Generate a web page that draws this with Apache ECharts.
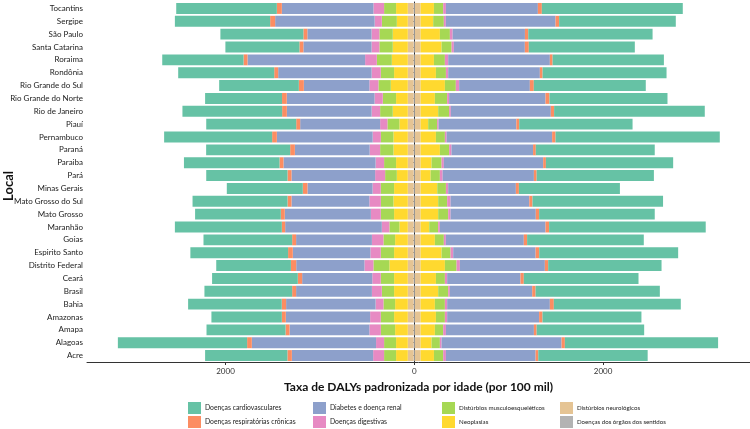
<!DOCTYPE html>
<html>
<head>
<meta charset="utf-8">
<script src="https://cdn.jsdelivr.net/npm/echarts@6/dist/echarts.min.js"></script>
<style>html,body{margin:0;padding:0;background:#fff;}#c{width:750px;height:429px;}</style>
</head>
<body>
<div id="c"></div>
<script>
// Categories, listed top to bottom as in the picture
const categories = ["Tocantins","Sergipe","São Paulo","Santa Catarina","Roraima","Rondônia","Rio Grande do Sul","Rio Grande do Norte","Rio de Janeiro","Piauí","Pernambuco","Paraná","Paraiba","Pará","Minas Gerais","Mato Grosso do Sul","Mato Grosso","Maranhão","Goias","Espirito Santo","Distrito Federal","Ceará","Brasil","Bahia","Amazonas","Amapa","Alagoas","Acre"];

const causeNames = ["Doenças cardiovasculares","Doenças respiratórias crônicas","Diabetes e doença renal","Doenças digestivas","Distúrbios musculoesqueléticos","Neoplasias","Distúrbios neurológicos","Doenças dos órgãos dos sentidos"];

// Left side (drawn to the left of zero)
const leftCardio = [1066,1009,879,784,861,1017,844,815,1056,953,1144,890,1012,861,805,1006,908,1133,939,1035,791,908,929,992,746,837,1369,872];
const leftResp   = [53,53,42,42,42,42,53,50,50,42,50,50,42,42,49,42,42,35,42,50,56,46,42,46,42,42,50,47];
const leftDiab   = [970,1054,680,722,1246,990,694,930,898,847,1015,792,976,886,690,825,912,1024,803,822,723,743,803,948,893,846,1316,861];
const leftDigest = [113,76,83,83,124,97,96,87,90,77,87,111,90,106,87,122,105,80,122,110,95,90,105,83,113,122,85,116];
const leftMusc   = [127,159,142,142,159,141,131,141,134,127,133,141,127,124,141,133,141,106,124,141,169,141,130,124,141,151,127,127];
const leftNeo    = [124,116,159,159,169,145,180,124,159,89,152,152,124,116,145,152,145,89,134,145,195,145,145,134,145,134,124,124];
const leftNeuro  = [62,62,62,62,62,62,62,62,62,62,62,62,62,62,62,62,62,62,62,62,62,62,62,62,62,62,62,62];
const leftSense  = [7,7,7,7,7,7,7,7,7,7,7,7,7,7,7,7,7,7,7,7,7,7,7,7,7,7,7,7];

// Right side
const rightCardio = [1493,1236,1317,1123,1179,1313,1186,1250,1596,1201,1740,1260,1348,1242,1070,1383,1225,1659,1236,1472,1201,1215,1316,1345,1048,1139,1623,1159];
const rightResp   = [42,38,35,42,29,29,42,42,35,30,36,29,29,29,32,34,35,38,35,38,35,35,36,42,36,29,35,28];
const rightDiab   = [974,1162,766,752,1077,971,749,1021,1059,824,1118,864,1052,967,717,834,903,1119,826,873,900,777,872,1088,974,932,1271,950];
const rightDigest = [29,21,29,24,35,24,35,21,18,15,18,25,24,29,24,36,25,18,21,28,35,24,18,24,24,29,18,29];
const rightMusc   = [98,113,106,106,116,106,116,130,116,95,95,98,106,98,92,95,106,95,95,95,124,95,106,106,95,88,88,98];
const rightNeo    = [141,133,204,222,141,162,257,151,186,80,162,204,116,106,176,186,186,91,151,222,257,162,186,151,162,151,116,141];
const rightNeuro  = [60,60,60,60,60,60,60,60,60,60,60,60,60,60,60,60,60,60,60,60,60,60,60,60,60,60,60,60];
const rightSense  = [7,7,7,7,7,7,7,7,7,7,7,7,7,7,7,7,7,7,7,7,7,7,7,7,7,7,7,7];

const tickValues = [-2000, 0, 2000];

const colors = ["#66C2A5","#FC8D62","#8DA0CB","#E78AC3","#A6D854","#FFD92F","#E5C494","#B3B3B3"];
const leftArrays  = [leftCardio,leftResp,leftDiab,leftDigest,leftMusc,leftNeo,leftNeuro,leftSense];
const rightArrays = [rightCardio,rightResp,rightDiab,rightDigest,rightMusc,rightNeo,rightNeuro,rightSense];

const yCats = categories.slice().reverse();
const series = [];
// innermost first: sense -> cardio
for (let i = causeNames.length - 1; i >= 0; i--) {
  const common = {type:'bar', stack:'total', name:causeNames[i], itemStyle:{color:colors[i]}, barCategoryGap:'15%', emphasis:{disabled:true}};
  series.push(Object.assign({}, common, {data: leftArrays[i].slice().reverse().map(v => -v)}));
  series.push(Object.assign({}, common, {data: rightArrays[i].slice().reverse()}));
}

const FONT = 'Lato, "Open Sans", sans-serif';
function leg(names, left, size) {
  return {data: names, left: left, top: 402, height: 27, padding: 0, orient:'vertical', icon:'rect', itemWidth:13, itemHeight:12, itemGap:2,
    selectedMode:false, textStyle:{fontSize:size, color:'#222', fontFamily:FONT, padding:[0,0,0,-1], lineHeight:12}};
}

const chart = echarts.init(document.getElementById('c'), null, {renderer:'canvas'});
chart.setOption({
  animation:false,
  backgroundColor:'#fff',
  grid:{left:87, right:0, top:2, bottom:67, containLabel:false, outerBoundsMode:'none'},
  xAxis:{type:'value', min:-3467, max:3556,
    name:'Taxa de DALYs padronizada por idade (por 100 mil)', nameLocation:'middle', nameGap:19,
    nameTextStyle:{fontSize:12, fontWeight:'bold', color:'#111', fontFamily:FONT},
    axisLine:{show:true, lineStyle:{color:'#333', width:1}},
    axisTick:{show:true, customValues:tickValues, length:3, lineStyle:{color:'#333'}},
    axisLabel:{customValues:tickValues, formatter:v => String(Math.abs(v)), fontSize:8, color:'#333', fontFamily:FONT, margin:5},
    splitLine:{show:false}},
  yAxis:{type:'category', data:yCats,
    axisLine:{show:true, lineStyle:{color:'#333'}},
    axisTick:{show:true, alignWithLabel:true, length:3, lineStyle:{color:'#333'}},
    axisLabel:{fontSize:8, color:'#1a1a1a', fontFamily:FONT, margin:4, interval:0}},
  graphic:[{type:'text', x:9, y:186, rotation:Math.PI/2,
    style:{text:'Local', font:'bold 13px Lato, "Open Sans", sans-serif', fill:'#111', align:'center', verticalAlign:'middle'}}],
  legend:[
    leg([causeNames[0], causeNames[1]], 188, 6.8),
    leg([causeNames[2], causeNames[3]], 313, 6.8),
    leg([causeNames[4], causeNames[5]], 442, 6.2),
    leg([causeNames[6], causeNames[7]], 560, 6.1)
  ],
  series: series
});
</script>
</body>
</html>
